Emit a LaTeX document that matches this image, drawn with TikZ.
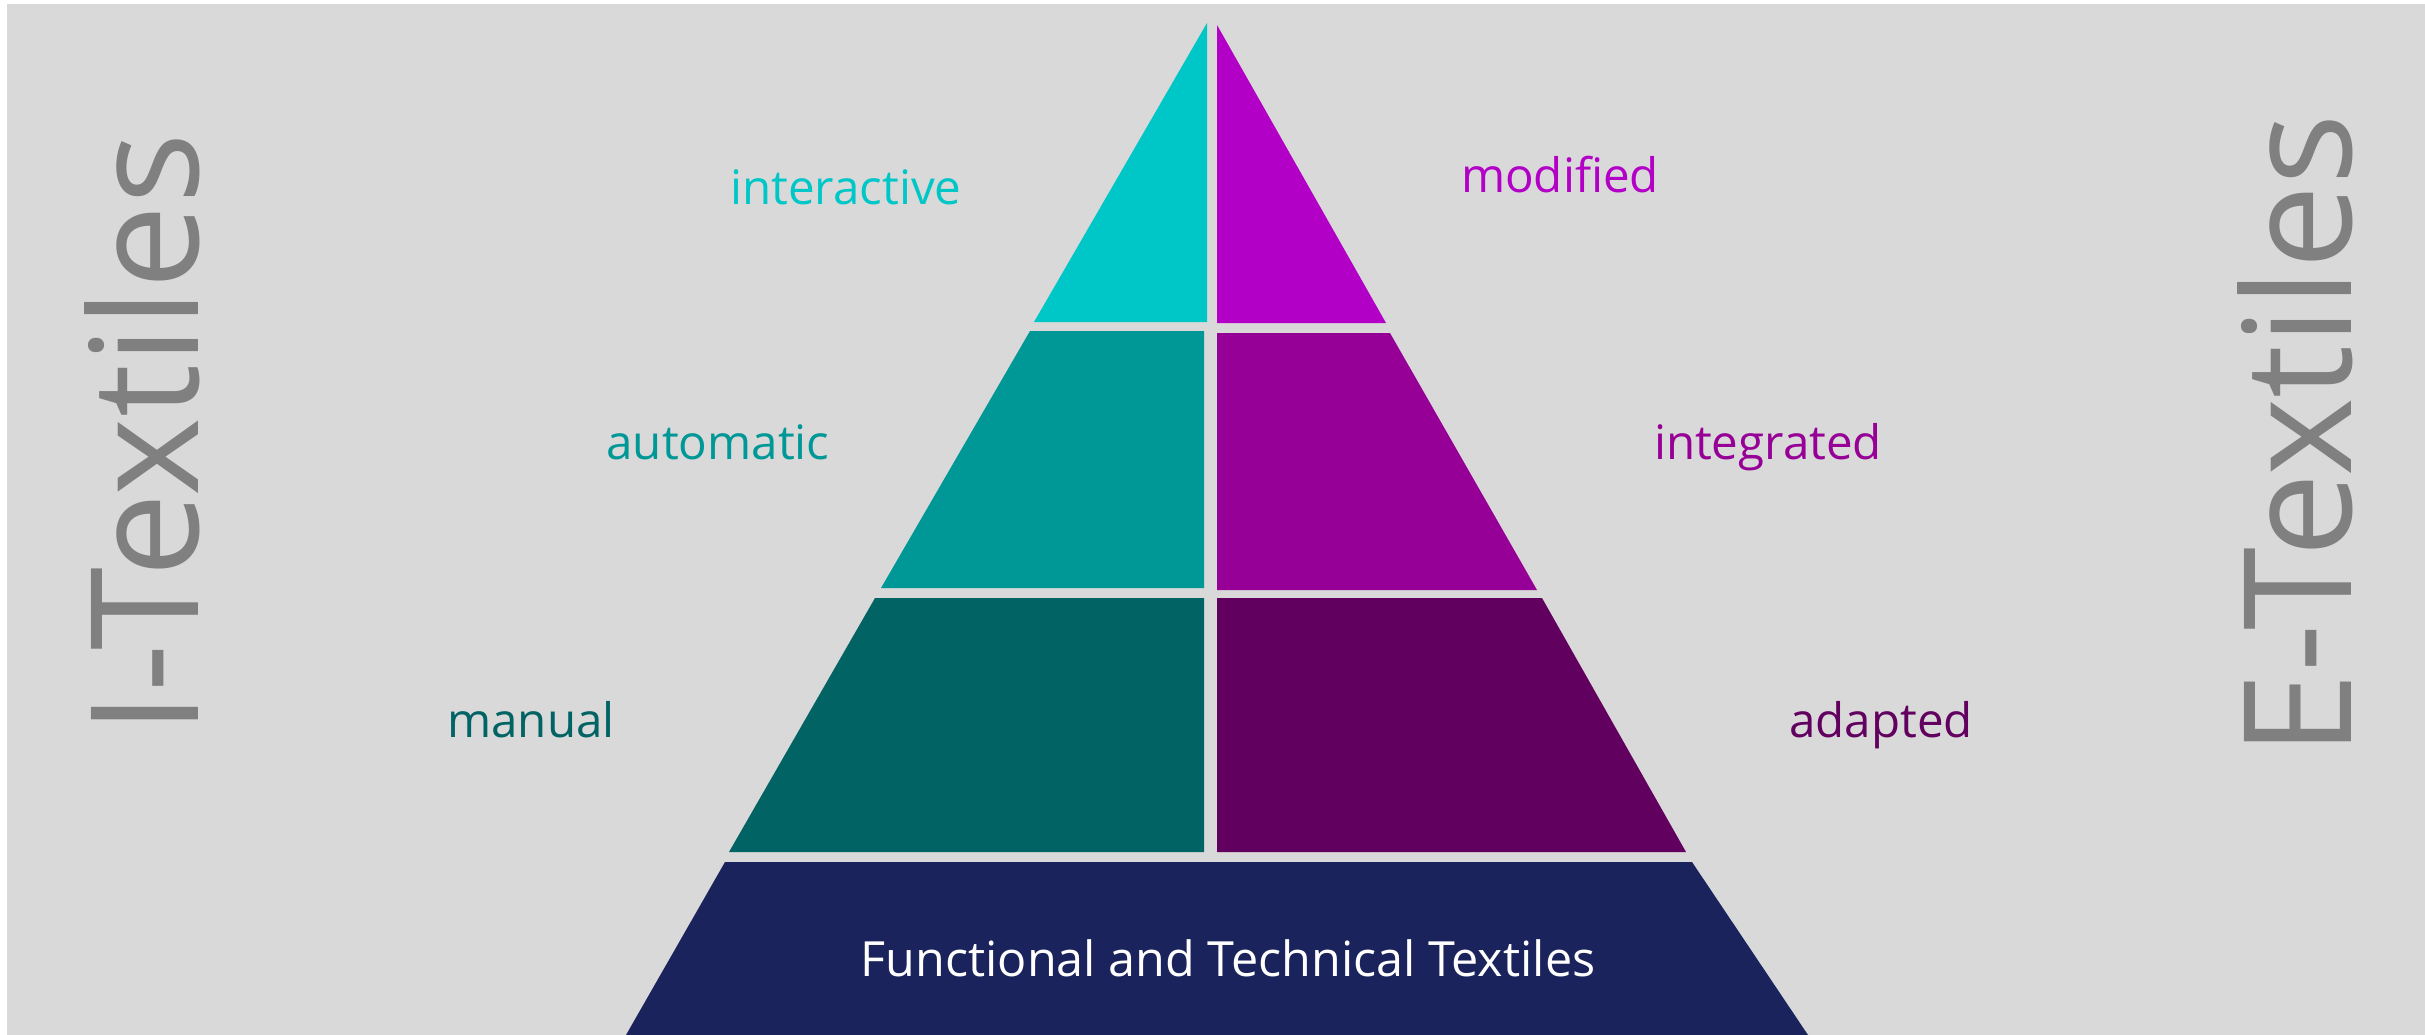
\documentclass[tikz,border=0pt]{standalone}
\usepackage{fontspec}
\setmainfont{Open Sans}
\usetikzlibrary{positioning}

\definecolor{bggray}{HTML}{D9D9D9}
\definecolor{txtgray}{HTML}{808080}
\definecolor{iOne}{HTML}{00C7C7}
\definecolor{iTwo}{HTML}{009797}
\definecolor{iThree}{HTML}{016363}
\definecolor{eOne}{HTML}{B300C7}
\definecolor{eTwo}{HTML}{960096}
\definecolor{eThree}{HTML}{620060}
\definecolor{basenavy}{HTML}{1A235B}

\tikzset{
  level/.style={inner sep=0pt, anchor=base, font=\fontsize{47.5}{56}\selectfont},
  side/.style={inner sep=0pt, anchor=base, rotate=90, text=txtgray, font=\fontsize{150}{175}\selectfont}
}

\begin{document}
\begin{tikzpicture}[x=1pt,y=-1pt]
			\useasboundingbox (0,0) rectangle (2425,1035);
			\fill[white] (0,0) rectangle (2425,1035);
			\fill[bggray] (7,4) rectangle (2425,1035);
			
			% I-Textiles half
			\fill[iOne]   (1207,23)  -- (1207,322) -- (1034,322) -- cycle;
			\fill[iTwo]   (1204,331) -- (1204,588) -- (881,588) -- (1030,331) -- cycle;
			\fill[iThree] (1204,598) -- (1204,852) -- (729,852) -- (875,598) -- cycle;
			
			% E-Textiles half
			\fill[eOne]   (1217,25)  -- (1217,323) -- (1386,323) -- cycle;
			\fill[eTwo]   (1217,333) -- (1217,590) -- (1537,590) -- (1390,333) -- cycle;
			\fill[eThree] (1217,598) -- (1217,852) -- (1686,852) -- (1542,598) -- cycle;
			
			% base
			\fill[basenavy] (725,862) -- (1692,862) -- (1808,1035) -- (626,1035) -- cycle;
			\node[level, text=white, font=\fontsize{48.5}{56}\selectfont] (base) at (1228,976) {Functional and Technical Textiles};
			
			\node[level, text=iOne]   (interactive) at (846,205) {interactive};
			\node[level, text=iTwo]   (automatic)   at (718,459) {automatic};
			\node[level, text=iThree] (manual)      at (531,737) {manual};
			\node[level, text=eOne]   (modified)    at (1560,193) {modified};
			\node[level, text=eTwo]   (integrated)  at (1768,459) {integrated};
			\node[level, text=eThree] (adapted)     at (1881,737) {adapted};
			
			\node[side] (itextiles) at (198,434) {I-Textiles};
			\node[side] (etextiles) at (2351,435) {E-Textiles};
			
		\end{tikzpicture}
\end{document}
